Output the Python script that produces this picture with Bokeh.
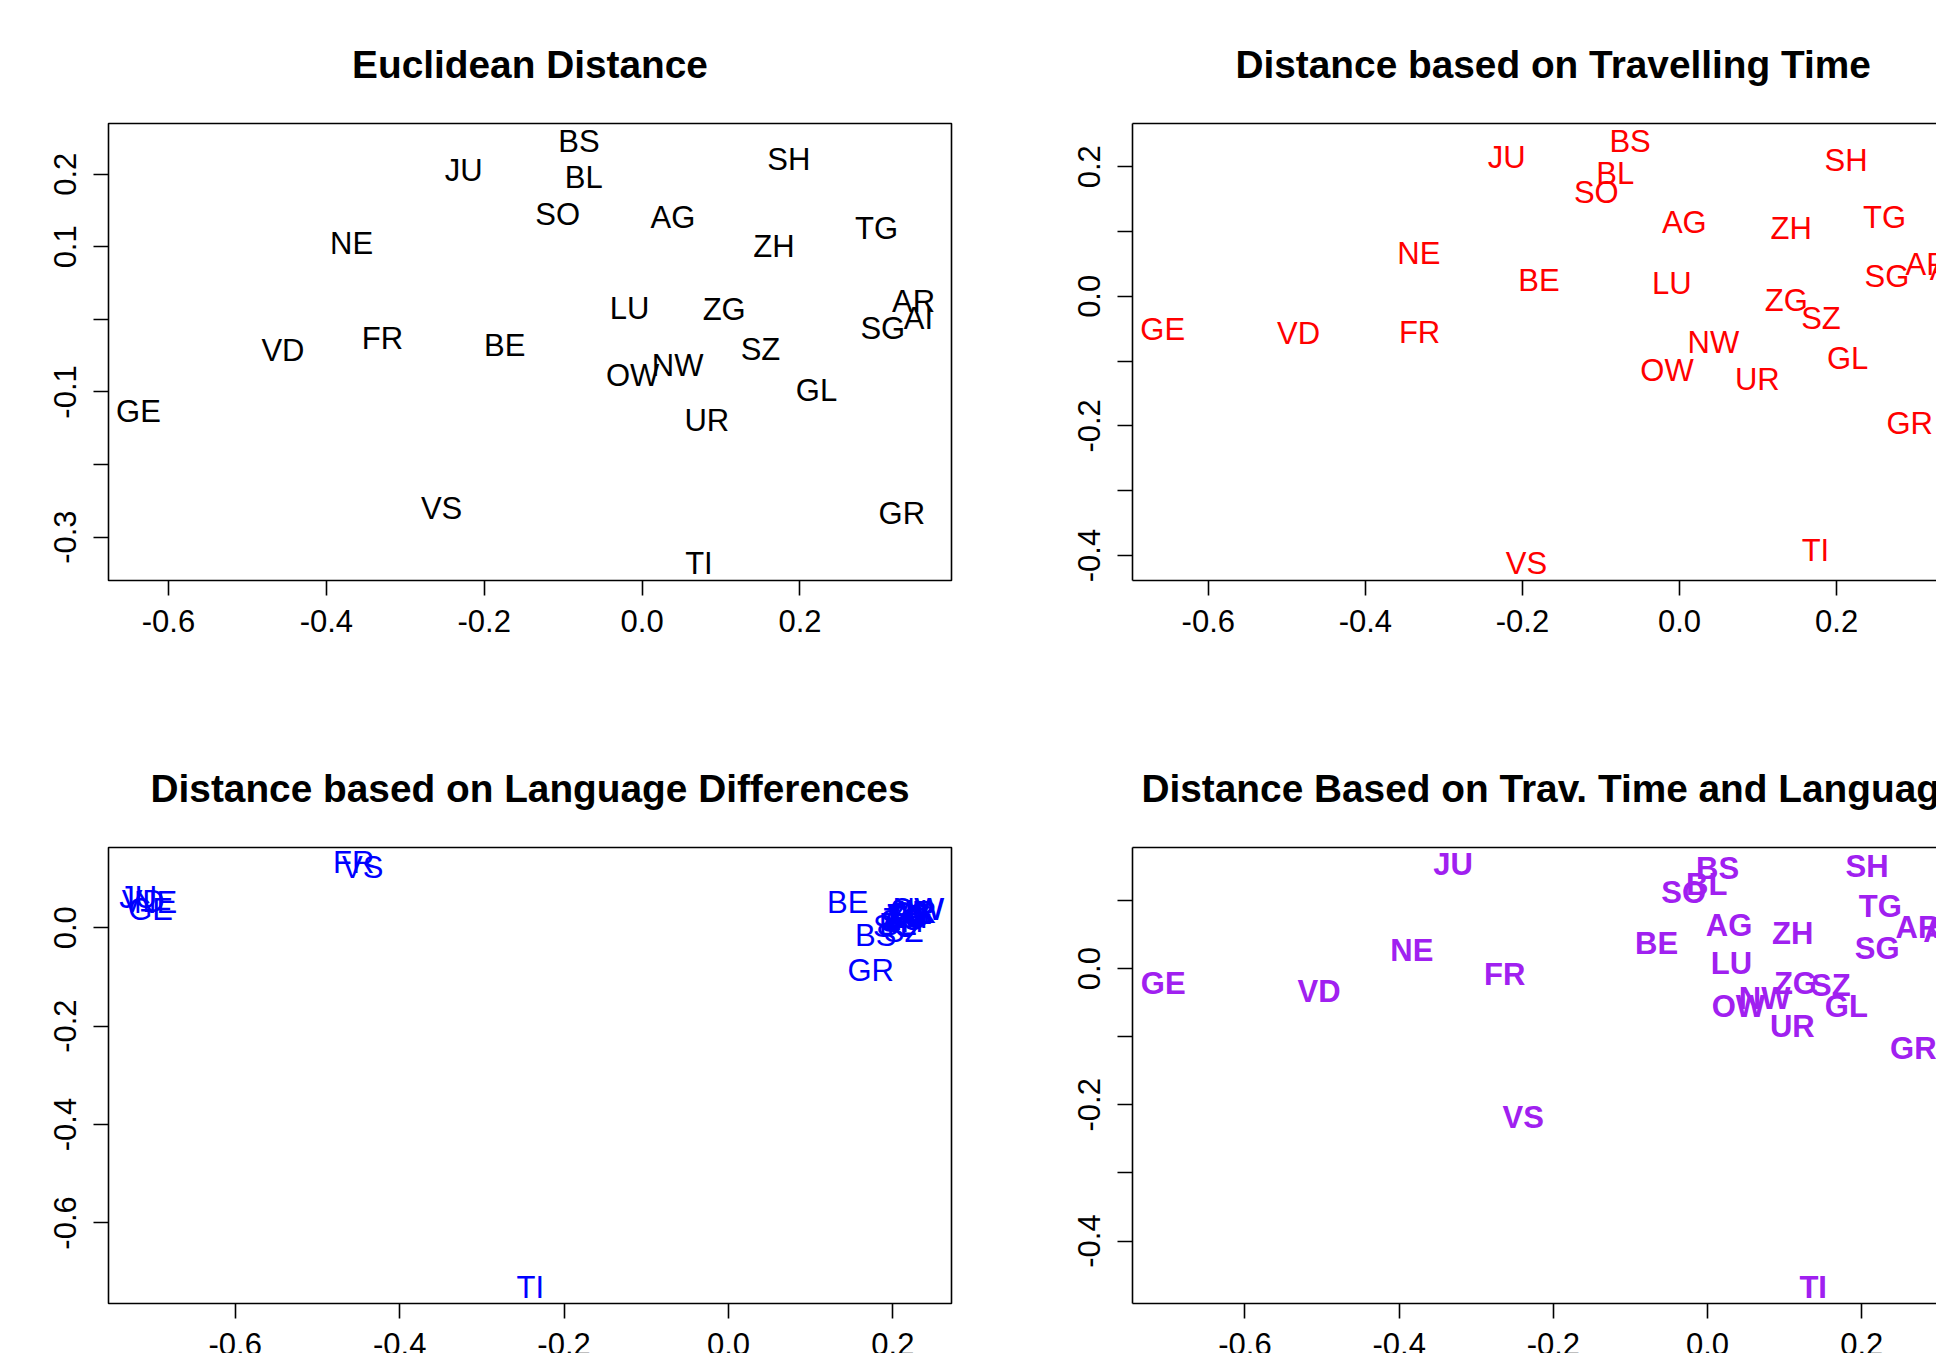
from bokeh.plotting import figure
from bokeh.models import ColumnDataSource, FixedTicker, Range1d, LinearAxis
from bokeh.layouts import row, column
from bokeh.embed import file_html
from bokeh.resources import INLINE
from bokeh.core.properties import value

cantons = ["ZH", "BE", "LU", "UR", "SZ", "OW", "NW", "GL", "ZG", "FR", "SO", "BS", "BL",
           "SH", "AR", "AI", "SG", "GR", "AG", "TG", "TI", "VD", "VS", "NE", "GE", "JU"]

# Euclidean distance (MDS coordinates)
eucl_x = [0.167, -0.174, -0.016, 0.082, 0.150, -0.012, 0.045, 0.221, 0.104, -0.329, -0.107, -0.080, -0.074,
          0.186, 0.344, 0.350, 0.305, 0.329, 0.039, 0.297, 0.072, -0.455, -0.254, -0.368, -0.638, -0.226]
eucl_y = [0.100, -0.036, 0.015, -0.140, -0.042, -0.077, -0.063, -0.098, 0.013, -0.027, 0.144, 0.245, 0.196,
          0.220, 0.024, 0.001, -0.013, -0.267, 0.141, 0.125, -0.336, -0.043, -0.261, 0.105, -0.127, 0.205]

# Travelling time
trav_x = [0.142, -0.179, -0.010, 0.099, 0.180, -0.016, 0.043, 0.214, 0.136, -0.331, -0.106, -0.063, -0.082,
          0.212, 0.315, 0.337, 0.264, 0.293, 0.006, 0.261, 0.173, -0.485, -0.195, -0.332, -0.658, -0.220]
trav_y = [0.105, 0.024, 0.019, -0.129, -0.035, -0.114, -0.071, -0.096, -0.006, -0.056, 0.160, 0.239, 0.189,
          0.209, 0.049, 0.042, 0.030, -0.197, 0.114, 0.122, -0.393, -0.057, -0.413, 0.066, -0.051, 0.214]

# Language differences
lang_x = [0.217, 0.145, 0.218, 0.226, 0.213, 0.229, 0.231, 0.222, 0.213, -0.456, 0.203, 0.179, 0.206,
          0.211, 0.224, 0.225, 0.221, 0.173, 0.215, 0.219, -0.241, -0.712, -0.445, -0.697, -0.703, -0.718]
lang_y = [0.021, 0.052, 0.023, 0.031, -0.008, 0.036, 0.038, 0.028, 0.017, 0.133, 0.003, -0.016, 0.006,
          0.013, 0.030, 0.033, 0.026, -0.087, 0.020, 0.025, -0.731, 0.053, 0.123, 0.051, 0.037, 0.062]

# Travelling time and language
both_x = [0.1105, -0.066, 0.031, 0.110, 0.160, 0.040, 0.074, 0.180, 0.114, -0.263, -0.031, 0.013, -0.001,
          0.207, 0.273, 0.300, 0.220, 0.267, 0.028, 0.224, 0.137, -0.504, -0.239, -0.3835, -0.706, -0.330]
both_y = [0.051, 0.037, 0.008, -0.085, -0.025, -0.055, -0.044, -0.055, -0.022, -0.009, 0.112, 0.147, 0.123,
          0.150, 0.060, 0.054, 0.030, -0.118, 0.063, 0.091, -0.468, -0.033, -0.218, 0.027, -0.0215, 0.1525]

titles = ["Euclidean Distance", "Distance based on Travelling Time",
          "Distance based on Language Differences", "Distance Based on Trav. Time and Language"]

x_ticks = [-0.6, -0.4, -0.2, 0.0, 0.2]
y_ticks_1 = [0.2, 0.1, 0.0, -0.1, -0.2, -0.3]
y_shown_1 = [0.2, 0.1, -0.1, -0.3]
y_ticks_2 = [0.2, 0.1, 0.0, -0.1, -0.2, -0.3, -0.4]
y_shown_2 = [0.2, 0.0, -0.2, -0.4]
y_ticks_3 = [0.0, -0.2, -0.4, -0.6]
y_shown_3 = [0.0, -0.2, -0.4, -0.6]
y_ticks_4 = [0.1, 0.0, -0.1, -0.2, -0.3, -0.4]
y_shown_4 = [0.0, -0.2, -0.4]

FONT = "Liberation Sans"
LW = 1.6


def fmt(v):
    s = "%.1f" % v
    return "0.0" if s == "-0.0" else s


def panel(title, xs, ys, color, bold, xr, yr, yt, ys_shown, w, h, mb, right_cut, t_offset):
    p = figure(width=w, height=h, x_range=Range1d(*xr), y_range=Range1d(*yr),
               output_backend="svg", toolbar_location=None,
               min_border_left=mb[0], min_border_top=mb[1], min_border_right=mb[2],
               min_border_bottom=mb[3], background_fill_color="white", border_fill_color="white")
    p.xgrid.visible = False
    p.ygrid.visible = False
    p.title.text = title
    p.title.text_font = FONT
    p.title.text_font_style = "bold"
    p.title.text_font_size = "38.8px"
    p.title.text_color = "black"
    p.title.standoff = 75
    if t_offset is None:
        p.title.align = "center"
    else:
        p.title.align = "left"
        p.title.offset = t_offset

    p.xaxis.ticker = FixedTicker(ticks=x_ticks)
    p.xaxis.major_label_overrides = {t: fmt(t) for t in x_ticks}
    p.yaxis.ticker = FixedTicker(ticks=yt)
    p.yaxis.major_label_overrides = {t: (fmt(t) if t in ys_shown else "") for t in yt}
    p.yaxis.major_label_orientation = "vertical"
    for ax in (p.xaxis[0], p.yaxis[0]):
        ax.major_tick_out = 15
        ax.major_tick_in = 0
        ax.minor_tick_out = 0
        ax.minor_tick_in = 0
        ax.minor_tick_line_color = None
        ax.major_tick_line_width = LW
        ax.major_tick_line_color = "black"
        ax.major_label_text_font = FONT
        ax.major_label_text_font_size = "31px"
        ax.major_label_text_color = "black"
    p.xaxis.major_label_standoff = 14
    p.yaxis.major_label_standoff = 17

    if right_cut:
        p.outline_line_color = None
        p.xaxis.axis_line_color = "black"
        p.yaxis.axis_line_color = "black"
        p.xaxis.axis_line_width = LW
        p.yaxis.axis_line_width = LW
        top = LinearAxis(ticker=FixedTicker(ticks=[]), major_tick_out=0, major_tick_in=0,
                         minor_tick_out=0, minor_tick_in=0, major_label_standoff=0,
                         axis_line_color="black", axis_line_width=LW)
        p.add_layout(top, "above")
    else:
        p.outline_line_color = "black"
        p.outline_line_width = LW
        p.xaxis.axis_line_color = None
        p.yaxis.axis_line_color = None

    src = ColumnDataSource(dict(x=xs, y=ys, label=cantons))
    p.text(x="x", y="y", text="label", source=src, text_align="center", text_baseline="middle",
           text_font=value(FONT), text_font_size=value("31px"), text_color=color,
           text_font_style="bold" if bold else "normal")
    return p


W1, W2 = 1048, 888
H1, H2 = 660, 728

p1 = panel(titles[0], eucl_x, eucl_y, "black", False, (-0.676, 0.392), (-0.3598, 0.2699),
           y_ticks_1, y_shown_1, W1, H1, (108, 123, 97, 80), False, None)
p2 = panel(titles[1], trav_x, trav_y, "#FF0000", False, (-0.6965, 0.3271), (-0.4386, 0.2667),
           y_ticks_2, y_shown_2, W2, H1, (84, 123, 0, 80), True, 103)
p3 = panel(titles[2], lang_x, lang_y, "#0000FF", False, (-0.7542, 0.2713), (-0.7637, 0.163),
           y_ticks_3, y_shown_3, W1, H2, (108, 187, 97, 85), False, None)
p4 = panel(titles[3], both_x, both_y, "#A020F0", True, (-0.7459, 0.2970), (-0.4917, 0.1778),
           y_ticks_4, y_shown_4, W2, H2, (84, 187, 0, 85), True, 9)

layout = column(row(p1, p2), row(p3, p4), width=1936, height=1353,
                styles={"overflow": "hidden"})

open("out.html", "w").write(file_html(layout, INLINE))
